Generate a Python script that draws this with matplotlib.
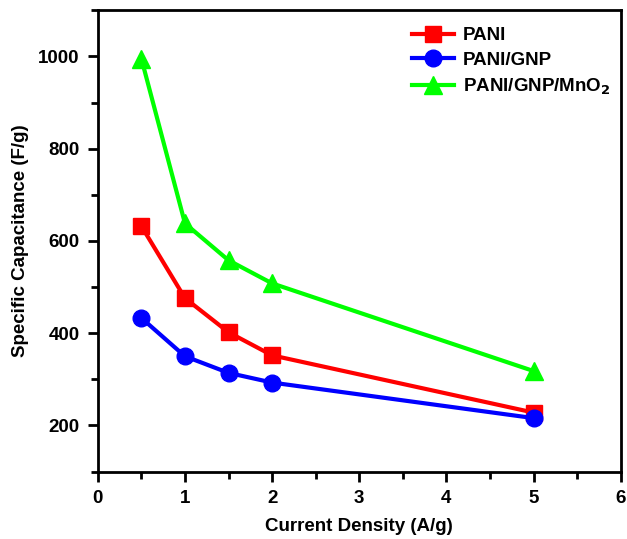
import matplotlib
matplotlib.use("Agg")
import matplotlib.pyplot as plt
from matplotlib.ticker import MultipleLocator

plt.rcParams['font.family'] = ['Liberation Sans', 'DejaVu Sans']
plt.rcParams['font.weight'] = 'bold'

x = [0.5, 1, 1.5, 2, 5]
pani = [632, 476, 402, 352, 228]
pani_gnp = [433, 350, 314, 293, 216]
pani_gnp_mno2 = [995, 638, 558, 508, 318]
labels = ['PANI', 'PANI/GNP', 'PANI/GNP/MnO$_\\mathbf{2}$']

fig = plt.figure(figsize=(6.27, 5.39), dpi=100)
ax = fig.add_axes([0.156, 0.125, 0.834, 0.856])

ax.plot(x, pani, color='#ff0000', marker='s', markersize=11, lw=3, label=labels[0])
ax.plot(x, pani_gnp, color='#0000ff', marker='o', markersize=12, lw=3, label=labels[1])
ax.plot(x, pani_gnp_mno2, color='#00ff00', marker='^', markersize=13, lw=3, label=labels[2])

ax.set_xlim(0, 6)
ax.set_ylim(100, 1100)
ax.xaxis.set_major_locator(MultipleLocator(1))
ax.xaxis.set_minor_locator(MultipleLocator(0.5))
ax.yaxis.set_major_locator(MultipleLocator(200))
ax.yaxis.set_minor_locator(MultipleLocator(100))
ax.set_yticks([200, 400, 600, 800, 1000])
ax.tick_params(which='both', direction='out', width=2, labelsize=13.5)
ax.tick_params(which='major', length=7, pad=6)
ax.tick_params(which='minor', length=5)
for lab in ax.get_xticklabels() + ax.get_yticklabels():
    lab.set_fontweight('bold')
for s in ax.spines.values():
    s.set_linewidth(2)

ax.set_xlabel('Current Density (A/g)', fontsize=13.5, fontweight='bold', labelpad=8)
ax.set_ylabel('Specific Capacitance (F/g)', fontsize=13.5, fontweight='bold', labelpad=7)

leg = ax.legend(loc='upper right', bbox_to_anchor=(0.995, 0.98), frameon=False,
                handlelength=2.2, borderaxespad=0.0, labelspacing=0.4, handletextpad=0.5,
                prop={'weight': 'bold', 'size': 13.5})

fig.savefig('out.png', dpi=100)
